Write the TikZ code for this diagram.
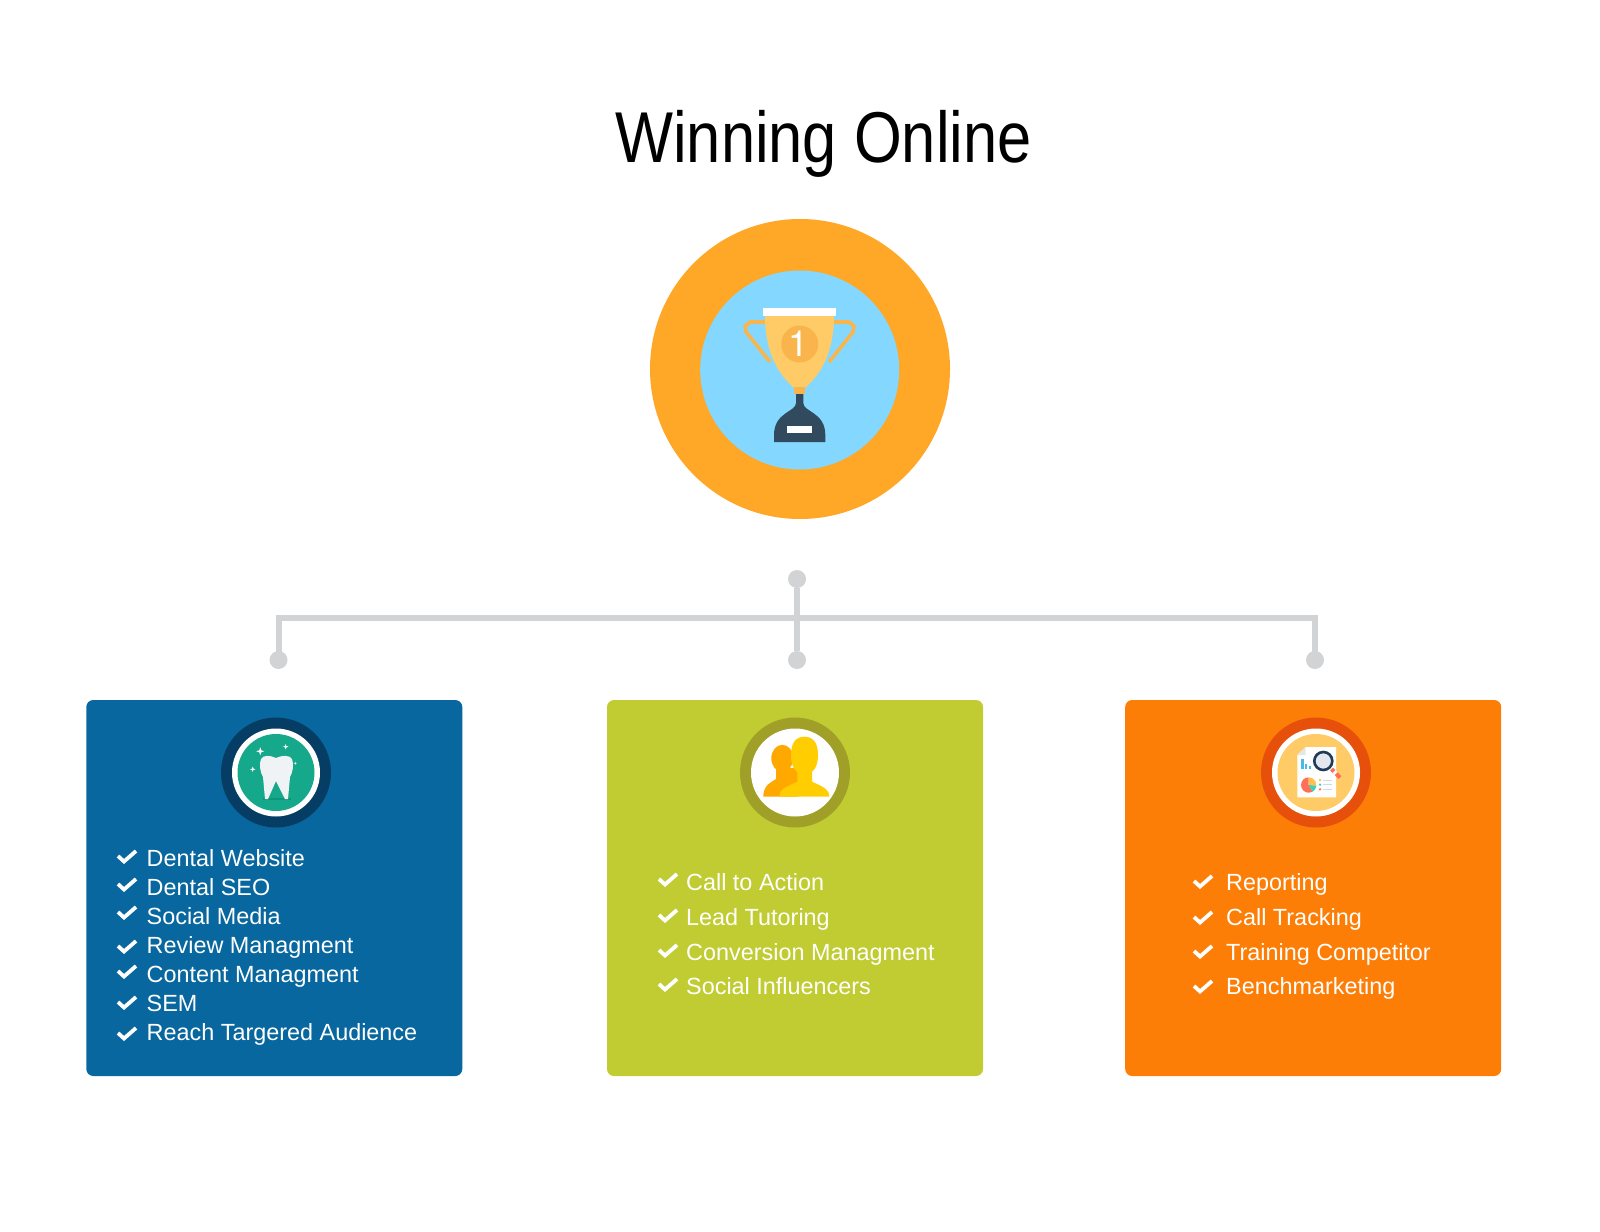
\documentclass[tikz,border=0pt]{standalone}
\usepackage{fontspec}
\setmainfont{Liberation Sans}
\newfontfamily\titlefont[FakeStretch=.853]{Liberation Sans}
\newfontfamily\medalfont{TeX Gyre Heros}
\usepackage{xcolor}
\usetikzlibrary{positioning,calc,shapes}
\definecolor{prizeorange}{HTML}{FFA726}
\definecolor{prizesky}{HTML}{84D8FF}
\definecolor{cupyellow}{HTML}{FFCB66}
\definecolor{medalorange}{HTML}{F9B54C}
\definecolor{basenavy}{HTML}{324A5E}
\definecolor{wiregrey}{HTML}{D2D3D5}
\definecolor{boxblue}{HTML}{07679E}
\definecolor{boxgreen}{HTML}{C0CC32}
\definecolor{boxorange}{HTML}{FC7E06}
\definecolor{toothnavy}{HTML}{063D64}
\definecolor{toothteal}{HTML}{16A88A}
\definecolor{toothshade}{HTML}{0E967A}
\definecolor{toothwhite}{HTML}{F0F3F6}
\definecolor{peopleolive}{HTML}{A0A028}
\definecolor{peopleback}{HTML}{FFA800}
\definecolor{peoplefront}{HTML}{FFCD00}
\definecolor{reportrust}{HTML}{E6500A}
\definecolor{pagefold}{HTML}{E4E7E7}
\definecolor{barblue}{HTML}{4CB8E8}
\definecolor{pinkred}{HTML}{FF7058}
\definecolor{pieyellow}{HTML}{FFC04D}
\definecolor{pieteal}{HTML}{40D0B0}
\definecolor{lensnavy}{HTML}{1F3B57}
\definecolor{lensgrey}{HTML}{E4E8EE}
\definecolor{rowblue}{HTML}{C8DCEB}
\tikzset{
  disc/.style = {circle, inner sep = 0, draw = none},
  dot/.style = {disc, fill = wiregrey, minimum size = 18pt},
  wire/.style = {draw = wiregrey, line width = 6pt},
  panel/.style = {rectangle, inner sep = 0, rounded corners = 7pt, minimum width = 376pt, minimum height = 376pt},
  item/.style = {anchor = base west, text = white, inner sep = 0, font = \fontsize{23.4}{28}\selectfont},
  tick/.pic = {\draw[white, line width = 3.8pt] (-9,-1) -- (-3,4.5) -- (9,-6);},
  spark/.pic = {\fill[white] (-4,0) -- (-1,-1) -- (0,-4) -- (1,-1) -- (4,0) -- (1,1) -- (0,4) -- (-1,1) -- cycle;}
}
\begin{document}
\begin{tikzpicture}[x = 1pt, y = -1pt]
\useasboundingbox (0,0) rectangle (1600,1231);
\node[anchor = base, inner sep = 0, font = \titlefont\fontsize{72}{80}\selectfont] (title) at (823.5,162) {Winning Online};
% Prize circle
\node[disc, fill = prizeorange, minimum size = 300pt] (prize) at (800,369) {};
\node[disc, fill = prizesky, minimum size = 199pt] (prizein) at (799.7,370) {};
% Trophy
\draw[medalorange, line width = 3.6pt, line join = round] (770,362) -- (746,332) -- (745,326) -- (750,322) -- (766,322);
\draw[medalorange, line width = 3.6pt, line join = round] (829,362) -- (853,332) -- (854,326) -- (849,322) -- (833,322);
\fill[cupyellow] (765,316) .. controls (765,352) and (778,374) .. (794,388) -- (805,388) .. controls (821,374) and (834,352) .. (834,316) -- cycle;
\fill[white] (763,308) rectangle (836,316);
\node[disc, fill = medalorange, minimum size = 37pt] (medal) at (799.7,344) {};
\node[text = white, inner sep = 0, font = \medalfont\fontsize{36}{36}\selectfont] (medalone) at (798.5,344) {1};
\fill[medalorange] (794,387) rectangle (805.3,394.3);
\fill[basenavy] (796,394) -- (796,403) .. controls (796,412) and (774,412) .. (774,435) -- (774,442) -- (825.3,442) -- (825.3,435) .. controls (825.3,412) and (803.3,412) .. (803.3,403) -- (803.3,394) -- cycle;
\fill[white] (787.3,425.7) rectangle (811.7,433.3);
% Connectors
\node[dot] (topdot) at (797,579) {};
\node[dot] (leftdot) at (278.5,660) {};
\node[dot] (middot) at (797,660) {};
\node[dot] (rightdot) at (1315,660) {};
\coordinate (bar) at (797,618);
\draw[wire] (topdot) -- (middot);
\draw[wire] (leftdot.center) |- (bar) -| (rightdot.center);
% Panels
\node[panel, fill = boxblue] (dental) at (274.3,888) {};
\node[panel, fill = boxgreen] (leads) at (795,888) {};
\node[panel, fill = boxorange] (report) at (1313.2,888) {};
% Tooth icon
\node[disc, fill = toothnavy, minimum size = 110pt] (toothring) at (276,772.5) {};
\node[disc, fill = white, minimum size = 88pt] (toothrim) at (toothring) {};
\node[disc, fill = toothteal, minimum size = 77pt] (toothdisc) at (toothring) {};
\fill[toothshade] (263,798) rectangle (291,800);
\fill[toothwhite] (276,758) .. controls (270,755) and (263,755) .. (261,759) .. controls (259,764) and (260,772) .. (263,777) -- (265,799) -- (268,799) -- (276,781) -- (285,799) -- (288,799) -- (290,777) .. controls (293,772) and (294,764) .. (292,759) .. controls (290,755) and (282,755) .. (276,758) -- cycle;
\pic at (260.3,751.3) {spark};
\pic[scale = .7] at (285.7,746.7) {spark};
\pic[scale = .7] at (252.7,769.3) {spark};
\pic[scale = .4] at (295.3,763.3) {spark};
% People icon
\node[disc, fill = peopleolive, minimum size = 110pt] (peoplering) at (795,772.5) {};
\node[disc, fill = white, minimum size = 88pt] (peoplerim) at (peoplering) {};
\fill[peopleback] (782.3,758.3) ellipse (11 and 13.5);
\fill[peopleback] (763.3,796.7) .. controls (763.5,788) and (766,785) .. (776,779) -- (776,768) -- (798,768) -- (798,796.7) -- cycle;
\fill[peoplefront] (804.3,736.7) .. controls (814,736.7) and (818,744) .. (818,755) .. controls (818,766) and (814,774) .. (804.3,774) .. controls (795,774) and (791,766) .. (791,755) .. controls (791,744) and (795,736.7) .. (804.3,736.7) -- cycle;
\fill[peoplefront] (779.3,796.7) .. controls (779.5,790) and (783,788) .. (797.3,781.7) -- (797.3,768) -- (812,768) -- (812,781.7) .. controls (826,788) and (829,790) .. (829.3,796.7) -- cycle;
% Report icon
\node[disc, fill = reportrust, minimum size = 110pt] (reportring) at (1316,772.5) {};
\node[disc, fill = white, minimum size = 88pt] (reportrim) at (reportring) {};
\node[disc, fill = cupyellow, minimum size = 77pt] (reportdisc) at (reportring) {};
\fill[white] (1305.7,747) -- (1336,747) -- (1336,797.3) -- (1297.3,797.3) -- (1297.3,755) -- cycle;
\fill[pagefold] (1305.7,747) -- (1305.7,755) -- (1297.3,755) -- cycle;
\fill[barblue] (1301,759) rectangle (1303.5,768.5);
\fill[barblue] (1305,763.5) rectangle (1307,768.5);
\fill[barblue] (1308.7,766) rectangle (1310.7,768.5);
\draw[pinkred, line width = 4pt] (1331.5,769) -- (1340,777.5);
\draw[white, line width = 4pt] (1334,771.5) -- (1336,773.5);
\draw[lensnavy, line width = 2.6pt, fill = lensgrey] (1323.3,761) circle (9);
\fill[pinkred] (1308.7,785) -- (1308.7,777.3) arc (-90:-270:7.7) arc (90:60:7.7) -- cycle;
\fill[pieyellow] (1308.7,785) -- (1308.7,777.3) arc (-90:5:7.7) -- cycle;
\fill[pieteal] (1308.7,785) -- ++(5:7.7) arc (5:60:7.7) -- cycle;
\fill[pieyellow] (1320,780) circle (1.3);
\fill[pieteal] (1320,784.7) circle (1.3);
\fill[pinkred] (1320,789.3) circle (1.3);
\fill[rowblue] (1323,779.5) rectangle (1332,780.5);
\fill[rowblue] (1323,784.2) rectangle (1332,785.2);
\fill[rowblue] (1323,788.8) rectangle (1332,789.8);
% Dental list
\pic at (127,857) {tick};
\pic at (127,885) {tick};
\pic at (127,913) {tick};
\pic at (127,947) {tick};
\pic at (127,972) {tick};
\pic at (127,1003) {tick};
\pic at (127,1034) {tick};
\node[item] (site) at (146.5,866) {Dental Website};
\node[item] (seo) at (146.5,895) {Dental SEO};
\node[item] (social) at (146.5,924) {Social Media};
\node[item] (review) at (146.5,953) {Review Managment};
\node[item] (content) at (146.5,982) {Content Managment};
\node[item] (sem) at (146.5,1011) {SEM};
\node[item] (reach) at (146.5,1040) {Reach Targered Audience};
% Leads list
\pic at (668,880) {tick};
\pic at (668,916) {tick};
\pic at (668,951) {tick};
\pic at (668,985) {tick};
\node[item] (action) at (686,890) {Call to Action};
\node[item] (tutoring) at (686,925) {Lead Tutoring};
\node[item] (conversion) at (686,960) {Conversion Managment};
\node[item] (influencers) at (686,994) {Social Influencers};
% Report list
\pic at (1203,882) {tick};
\pic at (1203,918) {tick};
\pic at (1203,952) {tick};
\pic at (1203,987) {tick};
\node[item] (reporting) at (1226,890) {Reporting};
\node[item] (tracking) at (1226,925) {Call Tracking};
\node[item] (training) at (1226,960) {Training Competitor};
\node[item] (bench) at (1226,994) {Benchmarketing};
\end{tikzpicture}
\end{document}
